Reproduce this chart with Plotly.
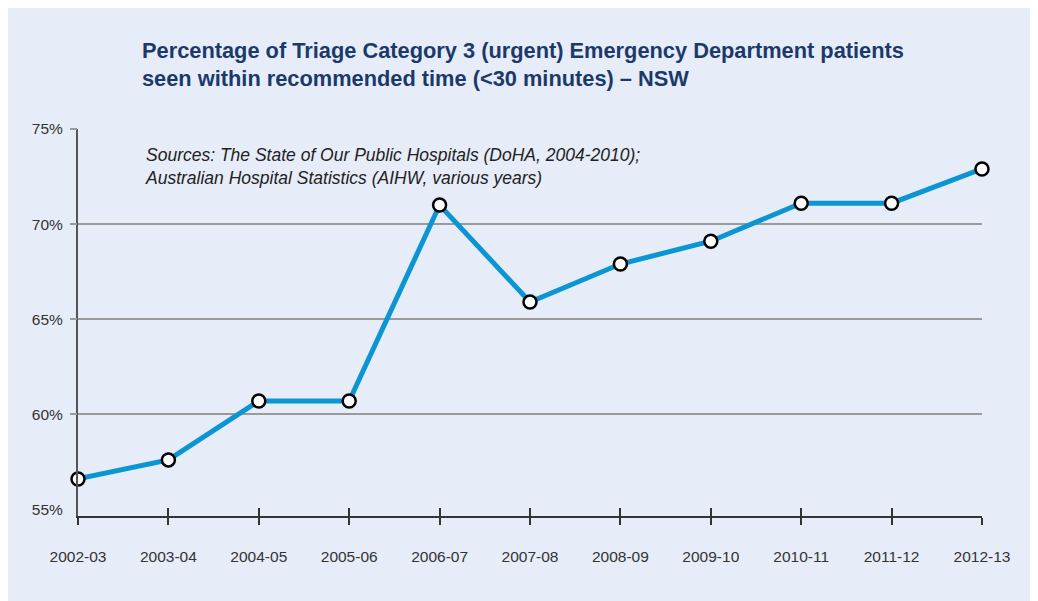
import plotly.graph_objects as go

years = ["2002-03", "2003-04", "2004-05", "2005-06", "2006-07", "2007-08",
         "2008-09", "2009-10", "2010-11", "2011-12", "2012-13"]
pct = [56.6, 57.6, 60.7, 60.7, 71.0, 65.9, 67.9, 69.1, 71.1, 71.1, 72.9]
label_ticks = [55, 60, 65, 70, 75]
label_text = ["55%", "60%", "65%", "70%", "75%"]
grid_ticks = [60, 65, 70, 75]

title = ("Percentage of Triage Category 3 (urgent) Emergency Department patients<br>"
         "seen within recommended time (&lt;30 minutes) – NSW")
source = ("Sources: The State of Our Public Hospitals (DoHA, 2004-2010);<br>"
          "Australian Hospital Statistics (AIHW, various years)")

BG = "#e7edf8"
FONT = "Liberation Sans, Arial, sans-serif"
YR = [54.65, 75]
XR = [0, 10]

fig = go.Figure()
fig.add_trace(go.Scatter(
    x=years, y=pct, mode="lines+markers",
    line=dict(color="#0b95d3", width=5),
    marker=dict(size=13, color="white", line=dict(color="black", width=2.5)),
    cliponaxis=False, showlegend=False, hoverinfo="x+y",
))
# invisible trace to activate the secondary axes
fig.add_trace(go.Scatter(x=years, y=pct, xaxis="x2", yaxis="y2", mode="lines",
                         line=dict(width=0), opacity=0, showlegend=False, hoverinfo="skip"))

fig.update_layout(
    width=1038, height=601,
    paper_bgcolor=BG, plot_bgcolor=BG,
    margin=dict(l=70, r=64, t=121, b=93),
    font=dict(family=FONT, size=15.5, color="#333333"),
    title=dict(text=title, x=134/1038, xanchor="left", y=1 - 50/601, yanchor="top",
               font=dict(family=FONT, size=21.8, color="#1b3a6b", weight="bold")),
    xaxis=dict(type="category", categoryorder="array", categoryarray=years,
               range=XR, showgrid=False, zeroline=False,
               showline=True, linecolor="#333333", linewidth=1.5,
               ticks="outside", ticklen=7, tickwidth=1.5, tickcolor="#333333",
               tickfont=dict(family=FONT, size=15.5, color="#333333"),
               ticklabelstandoff=19),
    xaxis2=dict(type="category", categoryorder="array", categoryarray=years,
                range=XR, overlaying="x", side="bottom", anchor="y",
                showgrid=False, zeroline=False, showline=False,
                ticks="inside", ticklen=8, tickwidth=1.5, tickcolor="#333333",
                showticklabels=False),
    yaxis=dict(range=YR, tickvals=label_ticks, ticktext=label_text,
               showgrid=False, zeroline=False,
               showline=True, linecolor="#555555", linewidth=2,
               ticks="", ticklabelstandoff=10,
               tickfont=dict(family=FONT, size=15.5, color="#333333")),
    yaxis2=dict(range=YR, tickvals=grid_ticks, overlaying="y", side="left",
                anchor="x", showticklabels=False,
                showgrid=True, gridcolor="#9a9a9a", gridwidth=1.5,
                zeroline=False, showline=False,
                ticks="outside", ticklen=7, tickwidth=1.5, tickcolor="#9a9a9a"),
    annotations=[dict(text=source, xref="paper", yref="paper",
                      x=(143 - 78) / 904, y=1 - (14) / 387,
                      xanchor="left", yanchor="top", align="left", showarrow=False,
                      font=dict(family=FONT, size=17.5, color="#222222", style="italic"))],
)

fig.write_html("out.html")
